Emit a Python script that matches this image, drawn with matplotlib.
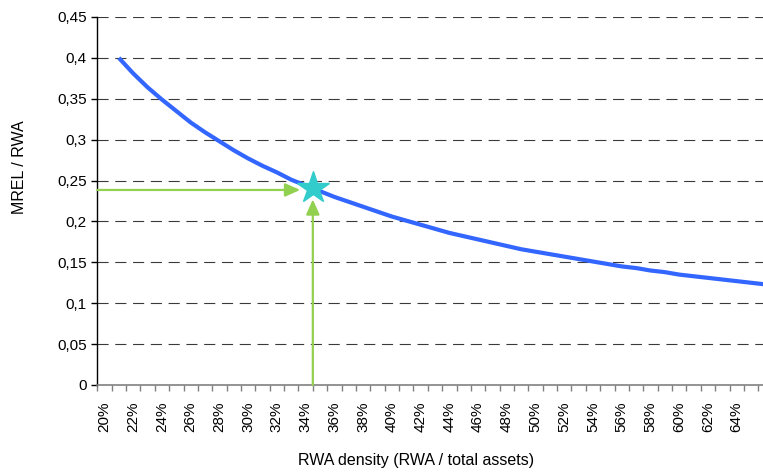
import matplotlib
matplotlib.use("Agg")
import matplotlib.pyplot as plt
from matplotlib.ticker import FuncFormatter

plt.rcParams['font.family'] = ['Liberation Sans', 'DejaVu Sans']

# Categories: RWA density 20% .. 66% (one per percent)
categories = list(range(20, 67))
tick_labels = [f"{c}%" for c in categories if c % 2 == 0 and c <= 64]
# MREL / RWA curve (starts at 21%)
curve_pct = list(range(21, 67))
curve_vals = [0.400, 0.381, 0.364, 0.349, 0.335, 0.321, 0.309, 0.298, 0.287, 0.277,
              0.268, 0.260, 0.251, 0.244, 0.237, 0.230, 0.224, 0.218, 0.212, 0.206,
              0.201, 0.196, 0.191, 0.186, 0.182, 0.178, 0.174, 0.170, 0.166, 0.163,
              0.160, 0.157, 0.154, 0.151, 0.148, 0.145, 0.143, 0.140, 0.138, 0.135,
              0.133, 0.131, 0.129, 0.127, 0.125, 0.123]
# Highlighted point (between 34% and 35%)
star_pct = 34.5
star_val = 0.2405
arrow_val = 0.2385
y_ticks = [0, 0.05, 0.1, 0.15, 0.2, 0.25, 0.3, 0.35, 0.4, 0.45]

W, H = 763, 472
fig = plt.figure(figsize=(W / 100, H / 100), dpi=100)
left_px, top_px, bottom_px = 97.3, 17, 385
ax = fig.add_axes([left_px / W, 1 - bottom_px / H, 1 - left_px / W, (bottom_px - top_px) / H])

def xpos(p):
    return p - categories[0]

ax.plot([xpos(p) for p in curve_pct], curve_vals, color='#3366FF', lw=3.0,
        solid_capstyle='butt', zorder=3)

ax.set_ylim(0, 0.45)
ax.set_xlim(-0.5, 45.83)
ax.set_yticks(y_ticks)
ax.yaxis.set_major_formatter(FuncFormatter(lambda v, _: f"{v:.2f}".rstrip('0').rstrip('.').replace('.', ',')))
for v in y_ticks[1:]:
    ax.axhline(v, color='#3a3a3a', lw=0.8, ls=(0, (10, 6)), zorder=1)

# x ticks at category boundaries, labels at centres
ax.set_xticks([i - 0.5 for i in range(len(categories))])
ax.set_xticklabels([])
ax.set_xticks([xpos(int(t[:-1])) for t in tick_labels], minor=True)
ax.set_xticklabels(tick_labels, minor=True, rotation=90, fontsize=11)
ax.tick_params(axis='x', which='major', length=4.5, color='#808080', width=1, direction='out')
ax.tick_params(axis='x', which='minor', length=0, pad=12)
ax.tick_params(axis='y', length=4.5, color='black', width=1, labelsize=11, pad=3)

for s in ['top', 'right']:
    ax.spines[s].set_visible(False)
ax.spines['left'].set_color('black')
ax.spines['left'].set_linewidth(1)
ax.spines['bottom'].set_color('#808080')
ax.spines['bottom'].set_linewidth(1.2)

green = '#92D050'
ax.annotate('', xy=(13.62, arrow_val), xytext=(-0.5, arrow_val),
            arrowprops=dict(arrowstyle='-|>,head_length=0.9,head_width=0.4', color=green, lw=1.6,
                            shrinkA=0, shrinkB=0), zorder=4)
ax.annotate('', xy=(xpos(star_pct), 0.227), xytext=(xpos(star_pct), 0),
            arrowprops=dict(arrowstyle='-|>,head_length=0.9,head_width=0.4', color=green, lw=1.6,
                            shrinkA=0, shrinkB=0), zorder=4, annotation_clip=False)
ax.plot([xpos(star_pct)], [star_val], marker='*', markersize=24, color='#33CCCC',
        markeredgecolor='#33CCCC', zorder=5, clip_on=False)

fig.text(20 / W, 1 - 167 / H, 'MREL / RWA', rotation=90, ha='center', va='center', fontsize=11.5)
fig.text(416 / W, 1 - 461 / H, 'RWA density (RWA / total assets)', ha='center', va='center', fontsize=11.5)

fig.savefig('out.png', dpi=100)
